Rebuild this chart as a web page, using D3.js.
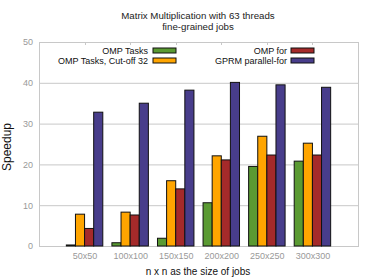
<!DOCTYPE html>
<html>
<head>
<meta charset="utf-8">
<script src="https://cdn.jsdelivr.net/npm/d3@7"></script>
<style>
  body { margin: 0; background: #fff; }
  text { font-family: "Liberation Sans", Arial, sans-serif; }
</style>
</head>
<body>
<svg id="main" width="373" height="280"></svg>
<script>
const categories = ["50x50", "100x100", "150x150", "200x200", "250x250", "300x300"];
const seriesNames = ["OMP Tasks", "OMP Tasks, Cut-off 32", "OMP for", "GPRM parallel-for"];
const seriesColors = ["#5a9a32", "#ffa500", "#a52a2a", "#483d8b"];
const ompTasks = [0.25, 0.8, 1.9, 10.6, 19.5, 20.8];
const ompTasksCutoff = [7.8, 8.3, 16.0, 22.1, 26.9, 25.2];
const ompFor = [4.3, 7.6, 14.0, 21.1, 22.3, 22.3];
const gprm = [32.8, 35.0, 38.2, 40.1, 39.5, 38.9];
const yTicks = [0, 10, 20, 30, 40, 50];

const series = [ompTasks, ompTasksCutoff, ompFor, gprm];

function draw() {
    const svg = d3.select("#main");
    const left = 39, right = 358, top = 42, bottom = 246;

    const x = d3.scaleLinear().domain([-1, 6]).range([left, right]);
    const y = d3.scaleLinear().domain([0, 50]).range([bottom, top]);

    // grid
    svg.selectAll('.grid').data(yTicks.slice(1, -1)).enter()
        .append('line')
        .attr('x1', left).attr('x2', right)
        .attr('y1', d => y(d) + 0.5).attr('y2', d => y(d) + 0.5)
        .attr('stroke', '#c8c8c8');

    // border
    svg.append('rect')
        .attr('x', left + 0.5).attr('y', top + 0.5)
        .attr('width', right - left).attr('height', bottom - top)
        .attr('fill', 'none').attr('stroke', '#c8c8c8');

    // y axis
    const yAxis = svg.append('g')
        .attr('transform', `translate(${left},0)`)
        .call(d3.axisLeft(y).tickValues(yTicks).tickSize(0).tickPadding(6));
    yAxis.select('.domain').remove();
    yAxis.selectAll('text').attr('fill', '#999').style('font-size', '9px')
        .style('font-family', '"Liberation Sans", Arial, sans-serif');

    // x axis
    const xAxis = svg.append('g')
        .attr('transform', `translate(0,${bottom})`)
        .call(d3.axisBottom(x).tickValues(d3.range(categories.length))
            .tickFormat(i => categories[i]).tickSize(0).tickPadding(7));
    xAxis.select('.domain').remove();
    xAxis.selectAll('text').attr('fill', '#999').style('font-size', '9px')
        .style('font-family', '"Liberation Sans", Arial, sans-serif');

    // mirror ticks on top
    svg.selectAll('.xtick').data(d3.range(categories.length)).enter()
        .append('line')
        .attr('x1', d => Math.round(x(d)) + 0.5).attr('x2', d => Math.round(x(d)) + 0.5)
        .attr('y1', top).attr('y2', top + 3)
        .attr('stroke', '#c8c8c8');

    // bars
    const bw = 0.2;
    series.forEach((vals, j) => {
        svg.selectAll('.bar' + j).data(vals).enter()
            .append('rect')
            .attr('x', (d, i) => x(i + (j - 1.5) * bw - bw / 2))
            .attr('y', d => y(d))
            .attr('width', x(bw) - x(0))
            .attr('height', d => y(0) - y(d))
            .attr('fill', seriesColors[j])
            .attr('stroke', '#111')
            .attr('stroke-width', 1);
    });

    // legend
    const legendPos = [
        {tx: 148, sx: 153, y: 50},
        {tx: 148, sx: 153, y: 60},
        {tx: 287, sx: 291, y: 50},
        {tx: 287, sx: 291, y: 60}
    ];
    seriesNames.forEach((name, j) => {
        const p = legendPos[j];
        svg.append('text')
            .attr('x', p.tx).attr('y', p.y + 3.5)
            .attr('text-anchor', 'end')
            .style('font-size', '9px')
            .attr('fill', '#111')
            .text(name);
        svg.append('rect')
            .attr('x', p.sx).attr('y', p.y - 2)
            .attr('width', 23).attr('height', 5)
            .attr('fill', seriesColors[j])
            .attr('stroke', '#111');
    });

    // titles
    svg.append('text').attr('x', 198).attr('y', 19)
        .attr('text-anchor', 'middle').style('font-size', '9.7px').attr('fill', '#222')
        .text('Matrix Multiplication with 63 threads');
    svg.append('text').attr('x', 198).attr('y', 30)
        .attr('text-anchor', 'middle').style('font-size', '9.7px').attr('fill', '#222')
        .text('fine-grained jobs');

    svg.append('text')
        .attr('transform', `translate(11,147) rotate(-90)`)
        .attr('text-anchor', 'middle').style('font-size', '12px').attr('fill', '#111')
        .text('Speedup');

    svg.append('text').attr('x', 198).attr('y', 275)
        .attr('text-anchor', 'middle').style('font-size', '10px').attr('fill', '#111')
        .text('n x n as the size of jobs');
}

draw()
</script>
</body>
</html>
